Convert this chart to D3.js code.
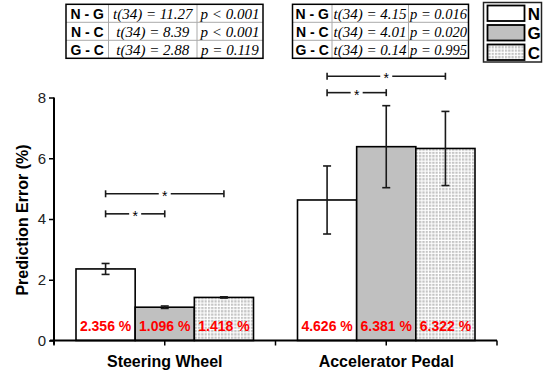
<!DOCTYPE html>
<html>
<head>
<meta charset="utf-8">
<script src="https://cdn.jsdelivr.net/npm/d3@7"></script>
<style>
  body { margin: 0; background: #fff; }
  svg { display: block; }
</style>
</head>
<body>
<div id="chart"></div>
<script>
// data
const categories = ["Steering Wheel", "Accelerator Pedal"];
const groups = ["N", "G", "C"];
const meanN = [2.356, 4.626];
const meanG = [1.096, 6.381];
const meanC = [1.418, 6.322];
const errN = [0.18, 1.12];
const errG = [0.04, 1.35];
const errC = [0.02, 1.22];
const yTicks = [0, 2, 4, 6, 8];
// significance brackets: category, from group, to group, height (in %)
const brackets = [
  { cat: 0, from: "N", to: "C", y: 4.83 },
  { cat: 0, from: "N", to: "G", y: 4.17 },
  { cat: 1, from: "N", to: "C", y: 8.70 },
  { cat: 1, from: "N", to: "G", y: 8.16 }
];
const tableSteering = [
  ["N - G", "t(34) = 11.27", "p < 0.001"],
  ["N - C", "t(34) = 8.39", "p < 0.001"],
  ["G - C", "t(34) = 2.88", "p = 0.119"]
];
const tablePedal = [
  ["N - G", "t(34) = 4.15", "p = 0.016"],
  ["N - C", "t(34) = 4.01", "p = 0.020"],
  ["G - C", "t(34) = 0.14", "p = 0.995"]
];

const width = 551, height = 371;
const margin = { top: 97.5, right: 54, bottom: 30.5, left: 54 };

const means = { N: meanN, G: meanG, C: meanC };
const errs = { N: errN, G: errG, C: errC };
const fills = { N: "#ffffff", G: "#c0c0c0", C: "url(#dots)" };

const svg = d3.select("#chart").append("svg")
  .attr("width", width)
  .attr("height", height);

// dotted pattern for C
const defs = svg.append("defs");
const pat = defs.append("pattern")
  .attr("id", "dots")
  .attr("patternUnits", "userSpaceOnUse")
  .attr("width", 3.3).attr("height", 3.3);
pat.append("rect").attr("width", 3.3).attr("height", 3.3).attr("fill", "#fff");
pat.append("rect").attr("width", 2.2).attr("height", 2.2).attr("fill", "#c4c4c4");

const x0 = d3.scaleBand()
  .domain(categories)
  .range([margin.left, width - margin.right])
  .paddingInner(0).paddingOuter(0);
const x1 = d3.scaleBand()
  .domain(groups)
  .range([22, x0.bandwidth() - 22]);
const y = d3.scaleLinear()
  .domain([0, 8])
  .range([height - margin.bottom, margin.top]);

const rows = [];
categories.forEach((c, i) => {
  groups.forEach(g => rows.push({ cat: c, i: i, g: g, v: means[g][i], e: errs[g][i] }));
});

// bars
svg.append("g")
  .selectAll("rect")
  .data(rows)
  .enter()
  .append("rect")
  .attr("x", d => x0(d.cat) + x1(d.g))
  .attr("y", d => y(d.v))
  .attr("width", x1.bandwidth())
  .attr("height", d => y(0) - y(d.v))
  .attr("fill", d => fills[d.g])
  .attr("stroke", "#000")
  .attr("stroke-width", 1.6);

// error bars
const eb = svg.append("g").attr("stroke", "#1a1a1a").attr("stroke-width", 1.6);
rows.forEach(d => {
  const cx = x0(d.cat) + x1(d.g) + x1.bandwidth() / 2;
  eb.append("line").attr("x1", cx).attr("x2", cx).attr("y1", y(d.v - d.e)).attr("y2", y(d.v + d.e));
  eb.append("line").attr("x1", cx - 4).attr("x2", cx + 4).attr("y1", y(d.v + d.e)).attr("y2", y(d.v + d.e));
  eb.append("line").attr("x1", cx - 4).attr("x2", cx + 4).attr("y1", y(d.v - d.e)).attr("y2", y(d.v - d.e));
});

// value labels
svg.append("g")
  .selectAll("text")
  .data(rows)
  .enter()
  .append("text")
  .attr("x", d => x0(d.cat) + x1(d.g) + x1.bandwidth() / 2)
  .attr("y", 330.5)
  .attr("text-anchor", "middle")
  .style("font-family", "Liberation Sans, Arial, sans-serif")
  .style("font-weight", "bold")
  .style("font-size", "14px")
  .attr("fill", "#ff0000")
  .text(d => d.v.toFixed(3) + " %");

// significance brackets
const br = svg.append("g");
brackets.forEach(b => {
  const c = categories[b.cat];
  const xa = x0(c) + x1(b.from) + x1.bandwidth() / 2;
  const xb = x0(c) + x1(b.to) + x1.bandwidth() / 2;
  const yy = y(b.y);
  const mid = (xa + xb) / 2;
  br.append("line").attr("x1", xa).attr("x2", mid - 6).attr("y1", yy).attr("y2", yy)
    .attr("stroke", "#1a1a1a").attr("stroke-width", 1.6);
  br.append("line").attr("x1", mid + 6).attr("x2", xb).attr("y1", yy).attr("y2", yy)
    .attr("stroke", "#1a1a1a").attr("stroke-width", 1.6);
  [xa, xb].forEach(xx => br.append("line").attr("x1", xx).attr("x2", xx)
    .attr("y1", yy - 3.5).attr("y2", yy + 3.5)
    .attr("stroke", "#1a1a1a").attr("stroke-width", 1.6));
  br.append("text").attr("x", mid).attr("y", yy + 7)
    .attr("text-anchor", "middle")
    .style("font-family", "Liberation Sans, Arial, sans-serif")
    .style("font-size", "14px")
    .text("*");
});

// y axis
const yAxis = svg.append("g")
  .attr("transform", "translate(" + margin.left + ",0)")
  .call(d3.axisLeft(y).tickValues(yTicks).tickFormat(d3.format("d")).tickSize(5).tickPadding(3));
yAxis.select(".domain").attr("stroke-width", 2).attr("d", "M0," + (y(0) + 4) + "V" + y(8));
yAxis.selectAll(".tick line").attr("stroke-width", 1.5);
yAxis.selectAll("text")
  .style("font-family", "Liberation Sans, Arial, sans-serif")
  .style("font-size", "15px")
  .attr("fill", "#222");

// x axis: ticks at band edges and band centres
const edges = [x0.range()[0], x0(categories[1]), x0.range()[1]];
const centres = categories.map(c => x0(c) + x0.bandwidth() / 2);
const xg = svg.append("g").attr("transform", "translate(0," + y(0) + ")");
xg.append("line").attr("x1", margin.left - 4).attr("x2", x0.range()[1])
  .attr("stroke", "#000").attr("stroke-width", 2);
edges.concat(centres).forEach(xx => xg.append("line")
  .attr("x1", xx).attr("x2", xx).attr("y1", 0).attr("y2", 5)
  .attr("stroke", "#000").attr("stroke-width", 1.5));
xg.selectAll("text.cat")
  .data(categories)
  .enter()
  .append("text")
  .attr("class", "cat")
  .attr("x", d => x0(d) + x0.bandwidth() / 2)
  .attr("y", 26.5)
  .attr("text-anchor", "middle")
  .style("font-family", "Liberation Sans, Arial, sans-serif")
  .style("font-weight", "bold")
  .style("font-size", "16px")
  .text(d => d);

// y title
svg.append("text")
  .attr("transform", "translate(28," + ((y(0) + y(8)) / 2 + 1) + ")rotate(-90)")
  .attr("text-anchor", "middle")
  .style("font-family", "Liberation Sans, Arial, sans-serif")
  .style("font-weight", "bold")
  .style("font-size", "16px")
  .text("Prediction Error (%)");

// stats tables
function drawTable(data, left, cols, anchor, pSize) {
  const top = 4.3, rowH = 18;
  const g = svg.append("g");
  const colX = [left].concat(cols);
  data.forEach((r, ri) => {
    r.forEach((t, ci) => {
      const leftAlign = anchor === "start" && ci > 0;
      const tx = leftAlign ? colX[ci] + 1.5 : (colX[ci] + colX[ci + 1]) / 2;
      g.append("text")
        .attr("x", tx)
        .attr("y", top + rowH * ri + 14.5)
        .attr("text-anchor", leftAlign ? "start" : "middle")
        .style("font-family", ci === 0 ? "Liberation Sans, Arial, sans-serif" : "Liberation Serif, Times New Roman, serif")
        .style("font-weight", ci === 0 ? "bold" : "normal")
        .style("font-style", ci === 0 ? "normal" : "italic")
        .style("font-size", ci === 0 ? "14px" : (ci === 2 ? pSize : "15px"))
        .text(t);
    });
  });
  const right = colX[colX.length - 1];
  for (let ri = 1; ri < data.length; ri++) {
    g.append("line").attr("x1", left).attr("x2", right)
      .attr("y1", top + rowH * ri).attr("y2", top + rowH * ri)
      .attr("stroke", "#aaa").attr("stroke-width", 1);
  }
  colX.slice(1, -1).forEach(xx => g.append("line").attr("x1", xx).attr("x2", xx)
    .attr("y1", top).attr("y2", top + rowH * data.length)
    .attr("stroke", "#aaa").attr("stroke-width", 1));
  g.append("rect").attr("x", left).attr("y", top)
    .attr("width", right - left).attr("height", rowH * data.length)
    .attr("fill", "none").attr("stroke", "#000").attr("stroke-width", 1.5);
}
drawTable(tableSteering, 66, [108.5, 197, 263], "middle", "15px");
drawTable(tablePedal, 292.5, [332, 408.5, 468.5], "start", "14.5px");

// legend
const lg = svg.append("g");
lg.append("rect").attr("x", 483.5).attr("y", 2.5).attr("width", 58).attr("height", 59.5)
  .attr("fill", "#fff").attr("stroke", "#222").attr("stroke-width", 1.5);
groups.forEach((gname, i) => {
  lg.append("rect").attr("x", 487.5).attr("y", 5.5 + i * 19.5).attr("width", 37).attr("height", 15.5)
    .attr("fill", fills[gname]).attr("stroke", "#000").attr("stroke-width", 1.8);
  lg.append("text").attr("x", 534).attr("y", 19.5 + i * 19.5)
    .attr("text-anchor", "middle")
    .style("font-family", "Liberation Sans, Arial, sans-serif")
    .style("font-weight", "bold")
    .style("font-size", "17px")
    .text(gname);
});
</script>
</body>
</html>
